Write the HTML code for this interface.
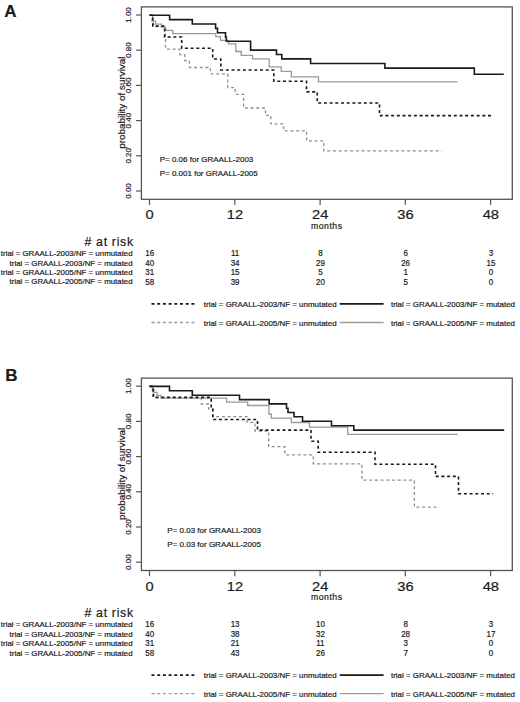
<!DOCTYPE html>
<html><head><meta charset="utf-8"><style>
html,body{margin:0;padding:0;background:#fff;width:520px;height:702px;overflow:hidden}
svg{display:block}
text{font-family:"Liberation Sans", sans-serif;fill:#1a1a1a;stroke:#1a1a1a;stroke-width:0.2px}
</style></head><body>
<svg width="520" height="702" viewBox="0 0 520 702">
<text x="4.3" y="16.9" font-size="17" font-weight="bold">A</text>
<text x="5.2" y="381.2" font-size="17" font-weight="bold">B</text>
<rect x="141.4" y="6.9" width="370.9" height="192.4" fill="none" stroke="#555" stroke-width="1.3"/>
<line x1="136" y1="191.0" x2="141.4" y2="191.0" stroke="#555" stroke-width="1.2"/>
<text transform="translate(131.2,191.0) rotate(-90)" text-anchor="middle" font-size="8">0.00</text>
<line x1="136" y1="155.8" x2="141.4" y2="155.8" stroke="#555" stroke-width="1.2"/>
<text transform="translate(131.2,155.8) rotate(-90)" text-anchor="middle" font-size="8">0.20</text>
<line x1="136" y1="120.6" x2="141.4" y2="120.6" stroke="#555" stroke-width="1.2"/>
<text transform="translate(131.2,120.6) rotate(-90)" text-anchor="middle" font-size="8">0.40</text>
<line x1="136" y1="85.4" x2="141.4" y2="85.4" stroke="#555" stroke-width="1.2"/>
<text transform="translate(131.2,85.4) rotate(-90)" text-anchor="middle" font-size="8">0.60</text>
<line x1="136" y1="50.2" x2="141.4" y2="50.2" stroke="#555" stroke-width="1.2"/>
<text transform="translate(131.2,50.2) rotate(-90)" text-anchor="middle" font-size="8">0.80</text>
<line x1="136" y1="15.0" x2="141.4" y2="15.0" stroke="#555" stroke-width="1.2"/>
<text transform="translate(131.2,15.0) rotate(-90)" text-anchor="middle" font-size="8">1.00</text>
<line x1="149.5" y1="199.3" x2="149.5" y2="205.0" stroke="#555" stroke-width="1.2"/>
<text transform="translate(149.7,219.3) scale(1.13,1)" text-anchor="middle" font-size="13">0</text>
<line x1="234.8" y1="199.3" x2="234.8" y2="205.0" stroke="#555" stroke-width="1.2"/>
<text transform="translate(235.0,219.3) scale(1.13,1)" text-anchor="middle" font-size="13">12</text>
<line x1="320.1" y1="199.3" x2="320.1" y2="205.0" stroke="#555" stroke-width="1.2"/>
<text transform="translate(320.2,219.3) scale(1.13,1)" text-anchor="middle" font-size="13">24</text>
<line x1="405.3" y1="199.3" x2="405.3" y2="205.0" stroke="#555" stroke-width="1.2"/>
<text transform="translate(405.5,219.3) scale(1.13,1)" text-anchor="middle" font-size="13">36</text>
<line x1="490.6" y1="199.3" x2="490.6" y2="205.0" stroke="#555" stroke-width="1.2"/>
<text transform="translate(490.8,219.3) scale(1.13,1)" text-anchor="middle" font-size="13">48</text>
<text x="311.0" y="228.8" font-size="8.7" letter-spacing="0.5">months</text>
<text transform="translate(124.8,102.6) rotate(-90)" text-anchor="middle" font-size="9.9">probability of survival</text>
<path d="M149.5,15.2H152.0V20.9H153.5V26.6H165.5V49.1H179.8V54.6H184.8V60.6H189.4V67.5H210.4V73.9H227.8V87.6H235.2V94.3H243.6V108.0H265.4V115.4H270.8V123.8H283.5V130.8H306.6V140.8H323.8V150.9H441.8" fill="none" stroke="#8e8e8e" stroke-width="1.3" stroke-dasharray="3,2.7"/>
<path d="M149.5,15.2H152.5V21.2H155.5V24.2H161.4V27.2H165.5V30.3H172.7V33.6H215.8V36.6H220.4V40.4H228.5V43.8H235.8V51.5H241.2V55.4H252.5V58.9H269.2V66.8H281.2V71.4H291.3V76.8H318.5V81.8H457.4" fill="none" stroke="#9a9a9a" stroke-width="1.3"/>
<path d="M149.5,15.2H152.8V26.1H164.6V37.0H181.7V48.2H212.7V59.0H220.8V70.0H273.8V81.2H306.5V91.9H317.2V103.0H379.5V115.6H493.0" fill="none" stroke="#1a1a1a" stroke-width="1.6" stroke-dasharray="3,2.7"/>
<path d="M149.5,15.2H169.6V19.6H192.3V24.0H215.6V28.4H217.5V32.7H225.5V37.0H226.3V41.3H250.6V50.1H276.5V54.5H281.8V58.9H310.6V63.5H384.9V68.1H474.3V74.3H503.8" fill="none" stroke="#1a1a1a" stroke-width="1.6"/>
<text x="159.7" y="162.0" font-size="8">P= 0.06 for GRAALL-2003</text>
<text x="159.7" y="175.9" font-size="8">P= 0.001 for GRAALL-2005</text>
<text x="133.8" y="246.1" text-anchor="end" font-size="12.3" letter-spacing="0.7">#  at risk</text>
<text x="132.6" y="255.7" text-anchor="end" font-size="7.88">trial = GRAALL-2003/NF = unmutated</text>
<text transform="translate(149.8,256.0) scale(0.94,1)" text-anchor="middle" font-size="8.5">16</text>
<text transform="translate(235.1,256.0) scale(0.94,1)" text-anchor="middle" font-size="8.5">11</text>
<text transform="translate(320.4,256.0) scale(0.94,1)" text-anchor="middle" font-size="8.5">8</text>
<text transform="translate(405.6,256.0) scale(0.94,1)" text-anchor="middle" font-size="8.5">6</text>
<text transform="translate(490.9,256.0) scale(0.94,1)" text-anchor="middle" font-size="8.5">3</text>
<text x="132.6" y="265.5" text-anchor="end" font-size="7.88">trial = GRAALL-2003/NF = mutated</text>
<text transform="translate(149.8,265.8) scale(0.94,1)" text-anchor="middle" font-size="8.5">40</text>
<text transform="translate(235.1,265.8) scale(0.94,1)" text-anchor="middle" font-size="8.5">34</text>
<text transform="translate(320.4,265.8) scale(0.94,1)" text-anchor="middle" font-size="8.5">29</text>
<text transform="translate(405.6,265.8) scale(0.94,1)" text-anchor="middle" font-size="8.5">26</text>
<text transform="translate(490.9,265.8) scale(0.94,1)" text-anchor="middle" font-size="8.5">15</text>
<text x="132.6" y="274.9" text-anchor="end" font-size="7.88">trial = GRAALL-2005/NF = unmutated</text>
<text transform="translate(149.8,275.2) scale(0.94,1)" text-anchor="middle" font-size="8.5">31</text>
<text transform="translate(235.1,275.2) scale(0.94,1)" text-anchor="middle" font-size="8.5">15</text>
<text transform="translate(320.4,275.2) scale(0.94,1)" text-anchor="middle" font-size="8.5">5</text>
<text transform="translate(405.6,275.2) scale(0.94,1)" text-anchor="middle" font-size="8.5">1</text>
<text transform="translate(490.9,275.2) scale(0.94,1)" text-anchor="middle" font-size="8.5">0</text>
<text x="132.6" y="284.4" text-anchor="end" font-size="7.88">trial = GRAALL-2005/NF = mutated</text>
<text transform="translate(149.8,284.7) scale(0.94,1)" text-anchor="middle" font-size="8.5">58</text>
<text transform="translate(235.1,284.7) scale(0.94,1)" text-anchor="middle" font-size="8.5">39</text>
<text transform="translate(320.4,284.7) scale(0.94,1)" text-anchor="middle" font-size="8.5">20</text>
<text transform="translate(405.6,284.7) scale(0.94,1)" text-anchor="middle" font-size="8.5">5</text>
<text transform="translate(490.9,284.7) scale(0.94,1)" text-anchor="middle" font-size="8.5">0</text>
<line x1="151.5" y1="303.9" x2="194.6" y2="303.9" stroke="#1a1a1a" stroke-width="1.6" stroke-dasharray="3,2.7"/>
<line x1="151.5" y1="322.5" x2="194.6" y2="322.5" stroke="#9a9a9a" stroke-width="1.3" stroke-dasharray="3,2.7"/>
<line x1="339.7" y1="303.9" x2="383.6" y2="303.9" stroke="#1a1a1a" stroke-width="1.7"/>
<line x1="339.7" y1="322.5" x2="383.6" y2="322.5" stroke="#9a9a9a" stroke-width="1.3"/>
<text x="203.8" y="306.9" font-size="7.95">trial = GRAALL-2003/NF = unmutated</text>
<text x="203.8" y="325.5" font-size="7.95">trial = GRAALL-2005/NF = unmutated</text>
<text x="391.0" y="306.9" font-size="7.95">trial = GRAALL-2003/NF = mutated</text>
<text x="391.0" y="325.5" font-size="7.95">trial = GRAALL-2005/NF = mutated</text>
<rect x="141.4" y="378.1" width="370.9" height="192.4" fill="none" stroke="#555" stroke-width="1.3"/>
<line x1="136" y1="562.2" x2="141.4" y2="562.2" stroke="#555" stroke-width="1.2"/>
<text transform="translate(131.2,562.2) rotate(-90)" text-anchor="middle" font-size="8">0.00</text>
<line x1="136" y1="527.0" x2="141.4" y2="527.0" stroke="#555" stroke-width="1.2"/>
<text transform="translate(131.2,527.0) rotate(-90)" text-anchor="middle" font-size="8">0.20</text>
<line x1="136" y1="491.8" x2="141.4" y2="491.8" stroke="#555" stroke-width="1.2"/>
<text transform="translate(131.2,491.8) rotate(-90)" text-anchor="middle" font-size="8">0.40</text>
<line x1="136" y1="456.6" x2="141.4" y2="456.6" stroke="#555" stroke-width="1.2"/>
<text transform="translate(131.2,456.6) rotate(-90)" text-anchor="middle" font-size="8">0.60</text>
<line x1="136" y1="421.4" x2="141.4" y2="421.4" stroke="#555" stroke-width="1.2"/>
<text transform="translate(131.2,421.4) rotate(-90)" text-anchor="middle" font-size="8">0.80</text>
<line x1="136" y1="386.2" x2="141.4" y2="386.2" stroke="#555" stroke-width="1.2"/>
<text transform="translate(131.2,386.2) rotate(-90)" text-anchor="middle" font-size="8">1.00</text>
<line x1="149.5" y1="570.5" x2="149.5" y2="576.2" stroke="#555" stroke-width="1.2"/>
<text transform="translate(149.7,590.5) scale(1.13,1)" text-anchor="middle" font-size="13">0</text>
<line x1="234.8" y1="570.5" x2="234.8" y2="576.2" stroke="#555" stroke-width="1.2"/>
<text transform="translate(235.0,590.5) scale(1.13,1)" text-anchor="middle" font-size="13">12</text>
<line x1="320.1" y1="570.5" x2="320.1" y2="576.2" stroke="#555" stroke-width="1.2"/>
<text transform="translate(320.2,590.5) scale(1.13,1)" text-anchor="middle" font-size="13">24</text>
<line x1="405.3" y1="570.5" x2="405.3" y2="576.2" stroke="#555" stroke-width="1.2"/>
<text transform="translate(405.5,590.5) scale(1.13,1)" text-anchor="middle" font-size="13">36</text>
<line x1="490.6" y1="570.5" x2="490.6" y2="576.2" stroke="#555" stroke-width="1.2"/>
<text transform="translate(490.8,590.5) scale(1.13,1)" text-anchor="middle" font-size="13">48</text>
<text x="311.0" y="600.0" font-size="8.7" letter-spacing="0.5">months</text>
<text transform="translate(124.8,473.8) rotate(-90)" text-anchor="middle" font-size="9.9">probability of survival</text>
<path d="M149.5,386.4H152.5V392.0H154.0V397.7H201.4V404.0H208.7V409.2H212.7V416.6H247.0V422.4H255.0V431.0H268.7V446.7H284.8V454.8H313.3V463.8H361.9V480.2H414.4V507.1H439.4" fill="none" stroke="#8e8e8e" stroke-width="1.3" stroke-dasharray="3,2.7"/>
<path d="M149.5,386.4H152.5V389.4H154.0V392.4H157.0V395.4H161.0V398.2H226.6V402.2H247.7V405.5H268.9V414.0H271.2V418.2H291.4V422.5H309.5V427.2H347.7V434.3H457.7" fill="none" stroke="#9a9a9a" stroke-width="1.3"/>
<path d="M149.5,386.4H153.2V397.4H211.2V408.4H212.8V419.5H257.5V430.1H311.0V441.2H318.2V452.3H375.0V464.3H435.5V476.4H458.5V493.8H493.0" fill="none" stroke="#1a1a1a" stroke-width="1.6" stroke-dasharray="3,2.7"/>
<path d="M149.5,386.4H169.5V390.7H192.3V395.2H239.5V399.6H269.2V403.9H286.5V408.2H288.0V412.5H294.0V416.8H302.5V421.2H331.5V425.7H353.8V430.1H504.2" fill="none" stroke="#1a1a1a" stroke-width="1.6"/>
<text x="167.3" y="533.2" font-size="8">P= 0.03 for GRAALL-2003</text>
<text x="167.3" y="547.1" font-size="8">P= 0.03 for GRAALL-2005</text>
<text x="133.8" y="617.3" text-anchor="end" font-size="12.3" letter-spacing="0.7">#  at risk</text>
<text x="132.6" y="626.9" text-anchor="end" font-size="7.88">trial = GRAALL-2003/NF = unmutated</text>
<text transform="translate(149.8,627.2) scale(0.94,1)" text-anchor="middle" font-size="8.5">16</text>
<text transform="translate(235.1,627.2) scale(0.94,1)" text-anchor="middle" font-size="8.5">13</text>
<text transform="translate(320.4,627.2) scale(0.94,1)" text-anchor="middle" font-size="8.5">10</text>
<text transform="translate(405.6,627.2) scale(0.94,1)" text-anchor="middle" font-size="8.5">8</text>
<text transform="translate(490.9,627.2) scale(0.94,1)" text-anchor="middle" font-size="8.5">3</text>
<text x="132.6" y="636.7" text-anchor="end" font-size="7.88">trial = GRAALL-2003/NF = mutated</text>
<text transform="translate(149.8,637.0) scale(0.94,1)" text-anchor="middle" font-size="8.5">40</text>
<text transform="translate(235.1,637.0) scale(0.94,1)" text-anchor="middle" font-size="8.5">38</text>
<text transform="translate(320.4,637.0) scale(0.94,1)" text-anchor="middle" font-size="8.5">32</text>
<text transform="translate(405.6,637.0) scale(0.94,1)" text-anchor="middle" font-size="8.5">28</text>
<text transform="translate(490.9,637.0) scale(0.94,1)" text-anchor="middle" font-size="8.5">17</text>
<text x="132.6" y="646.1" text-anchor="end" font-size="7.88">trial = GRAALL-2005/NF = unmutated</text>
<text transform="translate(149.8,646.4) scale(0.94,1)" text-anchor="middle" font-size="8.5">31</text>
<text transform="translate(235.1,646.4) scale(0.94,1)" text-anchor="middle" font-size="8.5">21</text>
<text transform="translate(320.4,646.4) scale(0.94,1)" text-anchor="middle" font-size="8.5">11</text>
<text transform="translate(405.6,646.4) scale(0.94,1)" text-anchor="middle" font-size="8.5">3</text>
<text transform="translate(490.9,646.4) scale(0.94,1)" text-anchor="middle" font-size="8.5">0</text>
<text x="132.6" y="655.6" text-anchor="end" font-size="7.88">trial = GRAALL-2005/NF = mutated</text>
<text transform="translate(149.8,655.9) scale(0.94,1)" text-anchor="middle" font-size="8.5">58</text>
<text transform="translate(235.1,655.9) scale(0.94,1)" text-anchor="middle" font-size="8.5">43</text>
<text transform="translate(320.4,655.9) scale(0.94,1)" text-anchor="middle" font-size="8.5">26</text>
<text transform="translate(405.6,655.9) scale(0.94,1)" text-anchor="middle" font-size="8.5">7</text>
<text transform="translate(490.9,655.9) scale(0.94,1)" text-anchor="middle" font-size="8.5">0</text>
<line x1="151.5" y1="675.1" x2="194.6" y2="675.1" stroke="#1a1a1a" stroke-width="1.6" stroke-dasharray="3,2.7"/>
<line x1="151.5" y1="693.7" x2="194.6" y2="693.7" stroke="#9a9a9a" stroke-width="1.3" stroke-dasharray="3,2.7"/>
<line x1="339.7" y1="675.1" x2="383.6" y2="675.1" stroke="#1a1a1a" stroke-width="1.7"/>
<line x1="339.7" y1="693.7" x2="383.6" y2="693.7" stroke="#9a9a9a" stroke-width="1.3"/>
<text x="203.8" y="678.1" font-size="7.95">trial = GRAALL-2003/NF = unmutated</text>
<text x="203.8" y="696.7" font-size="7.95">trial = GRAALL-2005/NF = unmutated</text>
<text x="391.0" y="678.1" font-size="7.95">trial = GRAALL-2003/NF = mutated</text>
<text x="391.0" y="696.7" font-size="7.95">trial = GRAALL-2005/NF = mutated</text>
</svg>
</body></html>
